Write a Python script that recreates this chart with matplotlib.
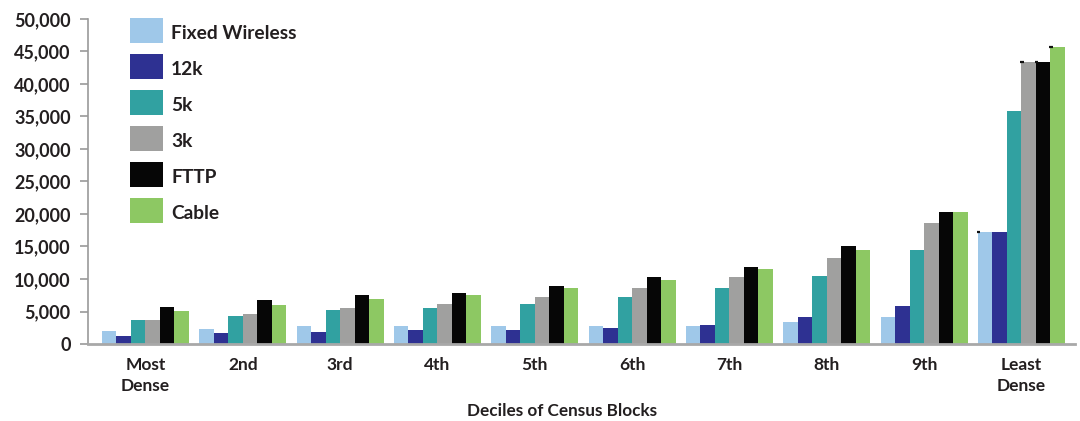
import matplotlib
matplotlib.use("Agg")
import matplotlib.pyplot as plt
import matplotlib.transforms as mtransforms
from matplotlib.patches import Patch
import numpy as np

plt.rcParams['font.family'] = ['Lato', 'DejaVu Sans']
plt.rcParams['font.weight'] = 'bold'

categories = ["Most\nDense", "2nd", "3rd", "4th", "5th", "6th", "7th", "8th", "9th", "Least\nDense"]
series_names = ["Fixed Wireless", "12k", "5k", "3k", "FTTP", "Cable"]

fixed_wireless = [2000, 2350, 2700, 2700, 2700, 2700, 2700, 3450, 4100, 17300]
k12 = [1300, 1750, 1800, 2100, 2100, 2400, 3000, 4100, 5800, 17300]
k5 = [3700, 4300, 5200, 5500, 6100, 7200, 8600, 10500, 14500, 35900]
k3 = [3700, 4600, 5500, 6100, 7200, 8600, 10300, 13300, 18600, 43400]
fttp = [5700, 6800, 7500, 7800, 8900, 10300, 11900, 15000, 20300, 43400]
cable = [5100, 6000, 6900, 7500, 8600, 9900, 11600, 14500, 20300, 45700]

colors = ["#9fc8e9", "#2e3192", "#31a1a1", "#a0a09f", "#060606", "#8dc863"]
y_ticks = list(range(0, 50001, 5000))

series = [fixed_wireless, k12, k5, k3, fttp, cable]
text_color = "#231f20"

fig = plt.figure(figsize=(10.8, 4.21), dpi=100)
ax = fig.add_axes([88 / 1080, 77 / 421, (1075 - 88) / 1080, 325 / 421])

x = np.arange(len(categories))
bw = 0.149
offsets = (np.arange(len(series)) - (len(series) - 1) / 2) * bw
for vals, off, col in zip(series, offsets, colors):
    ax.bar(x + off, vals, width=bw, color=col, linewidth=0)

# small dark caps on the tall least-dense bars
last = len(categories) - 1
for si in (0, 3, 4, 5):
    left = last + offsets[si] - bw / 2
    ax.plot([left - 0.01, left + 0.025], [series[si][last]] * 2, color="#111111", lw=1.6,
            solid_capstyle="butt")

ax.set_xlim(-0.59, 9.55)
ax.set_ylim(0, 50000)
ax.set_yticks(y_ticks)
ax.set_yticklabels([f"{v:,}" for v in y_ticks])
ax.set_xticks(x)
ax.set_xticklabels(categories, linespacing=1.4)

for s in ("top", "right"):
    ax.spines[s].set_visible(False)
ax.spines["left"].set_color("#9a9a9a")
ax.spines["left"].set_linewidth(1.2)
ax.spines["bottom"].set_color("#a8a8a8")
ax.spines["bottom"].set_linewidth(2)

ax.tick_params(axis="y", length=6, width=1.2, color="#9a9a9a", pad=6.5,
               labelsize=13, labelcolor=text_color)
ax.tick_params(axis="x", length=0, pad=9, labelsize=12.5, labelcolor=text_color)

fig.text(562 / 1080, 1 - 411 / 421, "Deciles of Census Blocks", ha="center", va="center",
         fontsize=12.3, fontweight="bold", color=text_color)

handles = [Patch(facecolor=c, edgecolor="none") for c in colors]
leg = ax.legend(handles, series_names, loc="upper left", bbox_to_anchor=(0.0426, 1.004),
                frameon=False, fontsize=13.8, handlelength=1.72, handleheight=1.63,
                labelspacing=0.574, handletextpad=0.42, borderaxespad=0, borderpad=0)
# nudge the legend labels down slightly relative to their swatches
shift = mtransforms.ScaledTranslation(0, -3 / 100, fig.dpi_scale_trans)
for t in leg.get_texts():
    t.set_color(text_color)
    t.set_transform(t.get_transform() + shift)

fig.savefig("out.png", dpi=100)
